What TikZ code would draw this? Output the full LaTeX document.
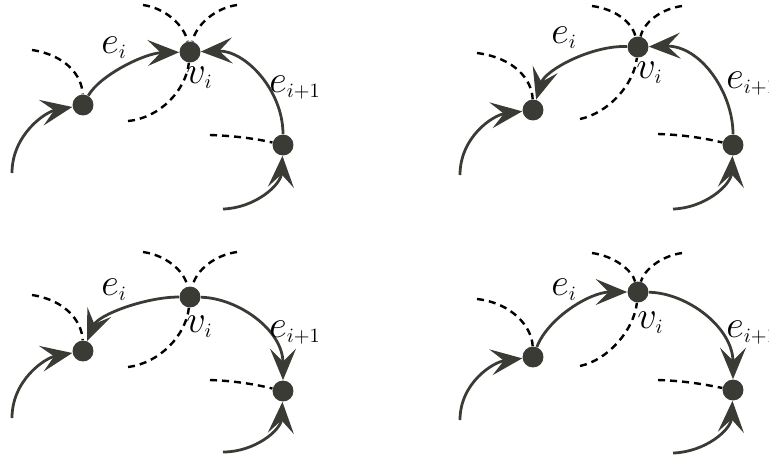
\documentclass[tikz,border=0pt]{standalone}
\usetikzlibrary{arrows.meta}
\DeclareMathSizes{20.74}{20.74}{10.95}{8}
\definecolor{ink}{HTML}{3B3B35}
\begin{document}
\begin{tikzpicture}[x=0.54pt,y=-0.54pt,
  vert/.style={circle,fill=ink,minimum size=11.3pt,inner sep=0pt},
  edge/.style={draw=ink,line width=1.5pt},
  arr/.style={edge,-{Stealth[length=17pt,width=14pt,inset=7pt]}},
  dsh/.style={draw=black,line width=1.3pt,dash pattern=on 3.8pt off 2.7pt},
  lbl/.style={anchor=base west,inner sep=0pt,font=\huge}]
\path[use as bounding box,clip] (0,0) rectangle (769,461);

% ---------- panel 1 ----------
\node[vert] (A1) at (83,105) {};
\node[vert] (V1) at (190,52) {};
\node[vert] (B1) at (283,145) {};
\coordinate (a1) at (12,173);
\coordinate (b1) at (223,209);
\coordinate (da1) at (32,50);
\coordinate (dv1) at (128,121);
\coordinate (db1) at (210,135);
\coordinate (tl1) at (143,5);
\coordinate (tr1) at (237,5);
\draw[arr] (a1) .. controls (12,135) and (45,112) .. (A1);
\draw[arr] (b1) .. controls (255,208) and (281,185) .. (B1);
\draw[arr] (A1) .. controls (100,75) and (145,53) .. (V1);
\draw[arr] (B1) .. controls (283,90) and (245,50) .. (V1);
\draw[dsh] (da1) .. controls (65,55) and (82,75) .. (A1);
\draw[dsh] (dv1) .. controls (160,118) and (186,90) .. (V1);
\draw[dsh] (db1) .. controls (240,136) and (262,140) .. (B1);
\draw[dsh] (tl1) .. controls (165,8) and (184,25) .. (V1);
\draw[dsh] (tr1) .. controls (215,8) and (196,25) .. (V1);
\node[lbl] (e1) at (101,53) {$e_i$};
\node[lbl] (v1) at (186,83) {$v_i$};
\node[lbl] (f1) at (269,92) {$e_{i+1}$};

% ---------- panel 2 ----------
\node[vert] (A2) at (533,110) {};
\node[vert] (V2) at (638,47) {};
\node[vert] (B2) at (733,145) {};
\coordinate (a2) at (460,175);
\coordinate (b2) at (673,209);
\coordinate (da2) at (477,53);
\coordinate (dv2) at (580,119);
\coordinate (db2) at (658,134);
\coordinate (tl2) at (592,6);
\coordinate (tr2) at (682,6);
\draw[arr] (a2) .. controls (460,137) and (493,115) .. (A2);
\draw[arr] (b2) .. controls (705,208) and (731,185) .. (B2);
\draw[arr] (V2) .. controls (592,45) and (545,70) .. (A2);
\draw[arr] (B2) .. controls (733,92) and (700,45) .. (V2);
\draw[dsh] (da2) .. controls (515,58) and (532,80) .. (A2);
\draw[dsh] (dv2) .. controls (608,113) and (634,85) .. (V2);
\draw[dsh] (db2) .. controls (690,135) and (712,140) .. (B2);
\draw[dsh] (tl2) .. controls (615,9) and (632,22) .. (V2);
\draw[dsh] (tr2) .. controls (661,9) and (644,22) .. (V2);
\node[lbl] (e2) at (551,43) {$e_i$};
\node[lbl] (v2) at (636,78) {$v_i$};
\node[lbl] (f2) at (726,88) {$e_{i+1}$};

% ---------- panel 3 ----------
\node[vert] (A3) at (83,351) {};
\node[vert] (V3) at (190,297) {};
\node[vert] (B3) at (283,391) {};
\coordinate (a3) at (12,418);
\coordinate (b3) at (223,452);
\coordinate (da3) at (32,295);
\coordinate (dv3) at (128,367);
\coordinate (db3) at (210,380);
\coordinate (tl3) at (143,252);
\coordinate (tr3) at (237,252);
\draw[arr] (a3) .. controls (12,380) and (45,358) .. (A3);
\draw[arr] (b3) .. controls (255,452) and (281,430) .. (B3);
\draw[arr] (V3) .. controls (145,297) and (98,315) .. (A3);
\draw[arr] (V3) .. controls (238,298) and (283,330) .. (B3);
\draw[dsh] (da3) .. controls (65,300) and (82,321) .. (A3);
\draw[dsh] (dv3) .. controls (160,363) and (186,335) .. (V3);
\draw[dsh] (db3) .. controls (240,381) and (262,386) .. (B3);
\draw[dsh] (tl3) .. controls (165,255) and (184,270) .. (V3);
\draw[dsh] (tr3) .. controls (215,255) and (196,270) .. (V3);
\node[lbl] (e3) at (101,295) {$e_i$};
\node[lbl] (v3) at (186,332) {$v_i$};
\node[lbl] (f3) at (269,337) {$e_{i+1}$};

% ---------- panel 4 ----------
\node[vert] (A4) at (533,357) {};
\node[vert] (V4) at (638,292) {};
\node[vert] (B4) at (733,390) {};
\coordinate (a4) at (460,420);
\coordinate (b4) at (673,453);
\coordinate (da4) at (477,299);
\coordinate (dv4) at (580,366);
\coordinate (db4) at (658,380);
\coordinate (tl4) at (592,253);
\coordinate (tr4) at (682,253);
\draw[arr] (a4) .. controls (460,383) and (493,362) .. (A4);
\draw[arr] (b4) .. controls (705,452) and (731,430) .. (B4);
\draw[arr] (A4) .. controls (548,318) and (590,292) .. (V4);
\draw[arr] (V4) .. controls (688,293) and (733,328) .. (B4);
\draw[dsh] (da4) .. controls (512,303) and (532,327) .. (A4);
\draw[dsh] (dv4) .. controls (608,360) and (634,330) .. (V4);
\draw[dsh] (db4) .. controls (690,381) and (712,386) .. (B4);
\draw[dsh] (tl4) .. controls (614,256) and (632,270) .. (V4);
\draw[dsh] (tr4) .. controls (661,256) and (644,270) .. (V4);
\node[lbl] (e4) at (551,295) {$e_i$};
\node[lbl] (v4) at (637,328) {$v_i$};
\node[lbl] (f4) at (726,337) {$e_{i+1}$};
\end{tikzpicture}
\end{document}
